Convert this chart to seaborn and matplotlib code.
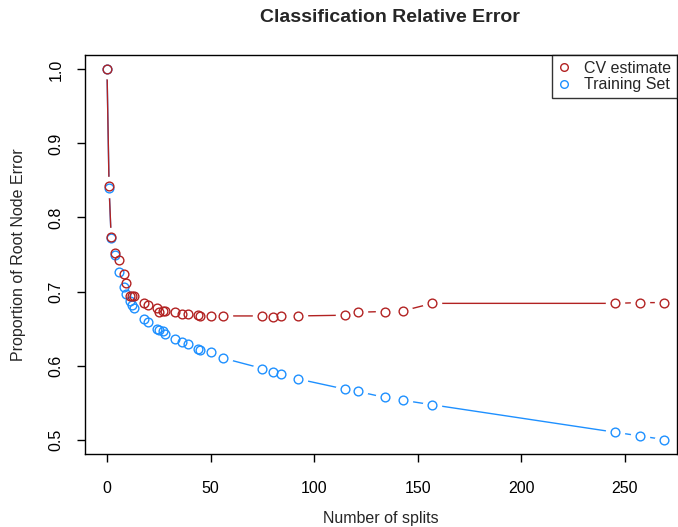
import numpy as np
import pandas as pd
import matplotlib
matplotlib.use("Agg")
import matplotlib.pyplot as plt
from matplotlib.lines import Line2D
import seaborn as sns

nsplit = [0, 1, 2, 4, 6, 8, 9, 11, 12, 13, 18, 20, 24, 25, 27, 28, 33, 36, 39, 44, 45,
          50, 56, 75, 80, 84, 92, 115, 121, 134, 143, 157, 245, 257, 269]
cv_error = [1.000, 0.842, 0.774, 0.752, 0.742, 0.724, 0.712, 0.694, 0.694, 0.694, 0.684,
            0.682, 0.678, 0.673, 0.674, 0.674, 0.672, 0.670, 0.670, 0.668, 0.667,
            0.667, 0.667, 0.667, 0.666, 0.667, 0.667, 0.668, 0.672, 0.673, 0.674,
            0.684, 0.684, 0.685, 0.685]
train_error = [1.000, 0.840, 0.772, 0.749, 0.726, 0.706, 0.697, 0.687, 0.682, 0.678, 0.663,
               0.659, 0.650, 0.648, 0.646, 0.643, 0.636, 0.632, 0.629, 0.623, 0.621,
               0.618, 0.610, 0.596, 0.591, 0.588, 0.582, 0.568, 0.565, 0.557, 0.553,
               0.547, 0.510, 0.505, 0.500]
series_names = ["CV estimate", "Training Set"]
colors = {"CV estimate": "#B22222", "Training Set": "#1E90FF"}
x_ticks = [0, 50, 100, 150, 200, 250]
y_ticks = [0.5, 0.6, 0.7, 0.8, 0.9, 1.0]

df = pd.concat([
    pd.DataFrame({"nsplit": nsplit, "error": cv_error, "series": series_names[0]}),
    pd.DataFrame({"nsplit": nsplit, "error": train_error, "series": series_names[1]}),
])

sns.set_theme(style="ticks")
plt.rcParams["font.family"] = ["Liberation Sans", "DejaVu Sans"]

W, H = 678, 527
fig = plt.figure(figsize=(W / 100, H / 100), dpi=100)
L, R, T, B = 85, 677, 55, 454
ax = fig.add_axes([L / W, 1 - B / H, (R - L) / W, (B - T) / H])

draw_order = ["Training Set", "CV estimate"]
# lines
for s in draw_order:
    sub = df[df.series == s]
    sns.lineplot(data=sub, x="nsplit", y="error", color=colors[s], lw=1.0,
                 sort=False, estimator=None, ax=ax, legend=False, zorder=2)
# gaps around points (R type="b")
for s in draw_order:
    sub = df[df.series == s]
    sns.lineplot(data=sub, x="nsplit", y="error", linestyle="", marker="o",
                 markersize=14, markerfacecolor="white", markeredgecolor="white",
                 markeredgewidth=0, sort=False, estimator=None, ax=ax,
                 legend=False, zorder=3)
# hollow circles
for s in draw_order:
    sub = df[df.series == s]
    sns.lineplot(data=sub, x="nsplit", y="error", linestyle="", marker="o",
                 markersize=6.3, markerfacecolor="none", markeredgecolor=colors[s],
                 markeredgewidth=1.0, sort=False, estimator=None, ax=ax,
                 legend=False, zorder=4)

x0_px, s_px = 107.0, 518.0 / 250.0
ax.set_xlim((L - x0_px) / s_px, (R - x0_px) / s_px)
ax.set_ylim(0.4805, 1.0195)
ax.set_xticks(x_ticks)
ax.set_xticklabels([str(v) for v in x_ticks])
ax.set_yticks(y_ticks)
ax.set_yticklabels([f"{v:.1f}" for v in y_ticks], rotation=90, va="center")
for sp in ax.spines.values():
    sp.set_visible(True)
    sp.set_color("black")
    sp.set_linewidth(1.0)
ax.tick_params(axis="both", direction="out", length=5.5, width=1.0, colors="black",
               labelsize=11.5)
ax.tick_params(axis="x", pad=14)
ax.tick_params(axis="y", pad=10)
ax.set_xlabel("Number of splits", fontsize=11.5, labelpad=11)
ax.set_ylabel("Proportion of Root Node Error", fontsize=11.5, labelpad=16)
fig.text(390 / W, 1 - 17 / H, "Classification Relative Error",
         ha="center", va="center", fontsize=14, fontweight="bold")

handles = [Line2D([], [], linestyle="", marker="o", markersize=5.5,
                  markerfacecolor="none", markeredgecolor=colors[s], markeredgewidth=1.0)
           for s in series_names]
leg = ax.legend(handles, series_names, loc="upper right", bbox_to_anchor=(1, 1),
                borderaxespad=0, frameon=True, fancybox=False, fontsize=11.5,
                handlelength=0.8, handletextpad=0.9, labelspacing=0.1,
                borderpad=0.35)
leg.get_frame().set_edgecolor("black")
leg.get_frame().set_linewidth(1.0)

fig.savefig("out.png", dpi=100)
